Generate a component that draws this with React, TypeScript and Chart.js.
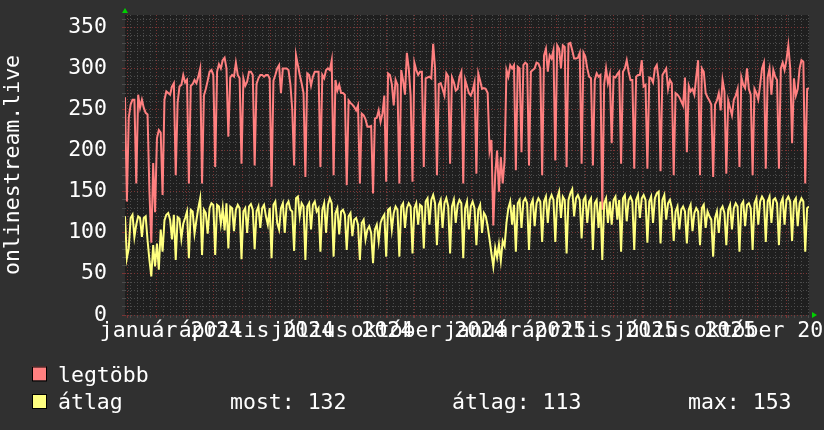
import React, { useEffect, useRef } from "react";
import { Chart, registerables } from "chart.js";
Chart.register(...registerables);

// ---- data (one point every 2 days, starting 2023-11-28) ----
const legtobb = [
  265,138,240,256,262,262,160,268,252,262,
  252,246,244,150,88,185,125,215,225,222,
  146,262,272,270,268,278,282,170,258,278,
  280,292,283,286,160,279,281,286,282,290,
  300,160,267,275,285,296,298,292,180,296,
  305,300,310,313,300,217,289,292,290,307,
  292,288,184,288,279,284,296,296,292,182,
  281,288,292,292,290,292,292,288,156,285,
  292,300,304,270,300,300,300,298,281,250,
  182,316,304,292,282,270,168,294,292,279,
  290,296,296,296,180,292,288,298,300,298,
  310,170,286,273,280,270,270,268,158,261,
  258,256,253,249,255,160,245,243,238,229,
  229,230,148,239,240,249,235,245,267,162,
  294,292,281,255,286,280,160,298,285,268,
  319,300,267,162,307,298,292,296,296,180,
  288,289,290,288,330,300,170,281,282,275,
  267,294,290,184,289,283,273,275,290,296,
  160,286,278,270,267,273,283,172,294,285,
  275,276,275,270,200,213,109,170,200,150,
  192,160,188,298,290,304,300,304,176,302,
  300,198,304,307,305,182,296,298,300,307,
  306,300,170,316,324,296,316,312,322,188,
  328,324,300,328,326,180,330,331,322,312,
  312,313,319,184,319,314,300,290,288,182,
  286,294,290,292,128,281,300,282,292,209,
  290,289,293,296,184,296,300,310,296,286,
  286,178,290,292,292,310,278,280,178,289,
  288,283,300,304,286,175,292,296,300,275,
  286,282,170,270,268,265,260,255,289,198,
  279,272,275,268,290,310,170,300,296,270,
  265,261,256,168,256,261,270,249,286,272,
  172,261,252,243,262,267,275,180,289,280,
  276,300,275,268,170,275,270,262,280,300,
  307,178,289,300,268,298,290,286,178,300,
  307,298,310,328,300,209,288,267,275,300,
  310,308,160,275,276,
];

const atlag = [
  120,69,81,118,122,95,110,120,118,95,
  118,120,91,67,47,85,59,87,55,104,
  77,115,122,124,116,92,122,67,119,117,
  93,111,118,126,69,128,126,99,115,130,
  142,73,128,124,99,130,136,134,73,134,
  132,111,130,103,136,81,132,130,102,128,
  134,130,68,126,130,100,132,135,128,80,
  126,132,106,130,134,120,110,130,69,134,
  138,112,104,130,136,100,134,138,128,126,
  78,142,144,120,136,132,67,132,136,104,
  134,138,126,130,77,128,136,100,134,142,
  136,71,124,130,98,126,128,122,79,120,
  124,96,116,118,110,67,112,116,92,104,
  108,100,63,104,110,90,112,118,122,71,
  128,130,104,124,132,128,71,132,136,106,
  130,136,132,75,130,136,110,134,132,81,
  138,142,110,140,146,136,85,134,140,106,
  136,142,132,75,132,140,112,134,140,136,
  69,130,138,104,132,138,130,85,128,134,
  100,124,120,108,92,75,59,82,70,86,
  66,90,84,112,130,138,110,134,77,136,
  140,106,138,142,136,79,134,140,108,136,
  142,138,89,138,144,112,140,146,140,89,
  142,150,118,144,140,75,140,148,153,120,
  142,146,140,93,140,144,112,138,142,79,
  136,140,106,138,67,136,142,112,138,110,
  140,144,116,140,77,142,146,114,140,144,
  138,79,140,146,118,142,146,140,88,138,
  144,112,142,148,150,87,140,146,116,136,
  140,130,90,126,132,104,128,132,126,87,
  128,134,102,124,130,126,85,130,134,106,
  126,120,116,71,118,126,100,128,132,124,
  85,128,134,104,130,136,132,77,134,138,
  108,134,136,130,79,136,142,110,138,144,
  140,89,138,144,112,140,142,136,85,136,
  142,110,140,144,138,90,138,142,108,136,
  142,138,77,130,132,
];

const DAYS_PER_POINT = 2;
const LAST_DAY = 728;
// month starts, in days since 2023-11-28
const monthStartDays = [3, 34, 65, 94, 125, 155, 186, 216, 247, 278, 308, 339, 369, 400, 431, 459, 490, 520, 551, 581, 612, 643, 673, 704];
const quarterLabels = ["január 2024", "április 2024", "július 2024", "október 2024", "január 2025", "április 2025", "július 2025", "október 2025"];
const quarterLabelDays = [49, 140, 231, 323, 415, 505, 596, 688];
const yLabelValues = [0, 50, 100, 150, 200, 250, 300, 350];
const Y_MAX = 365;
const yTitle = "onlinestream.live";
const seriesNames = ["legtöbb", "átlag"];
const statTexts = ["most: 132", "átlag: 113", "max: 153"];

const FONT_FAMILY = "'DejaVu Sans Mono', monospace";
const FONT_SIZE = 21.5;
const FONT = `${FONT_SIZE}px ${FONT_FAMILY}`;
const BG = "#303030";
const PLOT_BG = "#1f1f1f";
const TEXT = "#ffffff";
const GRID_MINOR = "#4c4c4c";
const GRID_MAJOR = "#7a3434";
const RED = "#ff8080";
const YELLOW = "#ffff80";
const ARROW = "#00d000";

const minorXGrid: number[] = [];
for (let d = 6; d <= LAST_DAY; d += 7) minorXGrid.push(d);
const xGridDays = Array.from(new Set([...minorXGrid, ...monthStartDays])).sort((a, b) => a - b);
const yGridValues: number[] = [];
for (let v = 0; v <= Y_MAX; v += 10) yGridValues.push(v);

const decor = {
  id: "decor",
  beforeDraw(chart: any) {
    const { ctx, chartArea: a, width, height } = chart;
    ctx.save();
    ctx.fillStyle = BG;
    ctx.fillRect(0, 0, width, height);
    ctx.fillStyle = PLOT_BG;
    ctx.fillRect(a.left, a.top, a.right - a.left, a.bottom - a.top);
    ctx.restore();
  },
  afterDraw(chart: any) {
    const { ctx, chartArea: a } = chart;
    const xs = chart.scales.x;
    ctx.save();
    ctx.font = FONT;
    ctx.fillStyle = TEXT;
    ctx.textBaseline = "alphabetic";
    ctx.textAlign = "center";
    quarterLabels.forEach((t, k) => {
      ctx.fillText(t, xs.getPixelForValue(quarterLabelDays[k]), a.bottom + 22);
    });
    // y title
    ctx.save();
    ctx.translate(19, (a.top + a.bottom) / 2);
    ctx.rotate(-Math.PI / 2);
    ctx.fillText(yTitle, 0, 0);
    ctx.restore();
    // arrows
    ctx.fillStyle = ARROW;
    ctx.beginPath();
    ctx.moveTo(a.left - 3, a.top - 2);
    ctx.lineTo(a.left + 3, a.top - 2);
    ctx.lineTo(a.left, a.top - 7);
    ctx.closePath();
    ctx.fill();
    ctx.beginPath();
    ctx.moveTo(a.right + 3, a.bottom - 3);
    ctx.lineTo(a.right + 3, a.bottom + 3);
    ctx.lineTo(a.right + 8, a.bottom);
    ctx.closePath();
    ctx.fill();
    // legend
    const colors = [RED, YELLOW];
    const rows = [381.5, 409];
    ctx.textAlign = "left";
    seriesNames.forEach((n, k) => {
      const base = rows[k];
      ctx.fillStyle = colors[k];
      ctx.fillRect(32, base - 15, 14, 14);
      ctx.strokeStyle = "#000000";
      ctx.lineWidth = 1;
      ctx.strokeRect(32.5, base - 14.5, 14, 14);
      ctx.fillStyle = TEXT;
      ctx.fillText(n, 58, base);
    });
    const statX = [230, 452, 688];
    statTexts.forEach((t, k) => ctx.fillText(t, statX[k], rows[1]));
    ctx.restore();
  },
};

export default function App() {
  const ref = useRef<HTMLCanvasElement | null>(null);
  useEffect(() => {
    if (!ref.current) return;
    const toPts = (arr: number[]) => arr.map((v, i) => ({ x: i * DAYS_PER_POINT, y: v }));
    const chart = new Chart(ref.current, {
      type: "line",
      data: {
        datasets: [
          { label: seriesNames[0], data: toPts(legtobb), borderColor: RED, borderWidth: 2, pointRadius: 0, tension: 0, order: 1 },
          { label: seriesNames[1], data: toPts(atlag), borderColor: YELLOW, borderWidth: 2, pointRadius: 0, tension: 0, order: 0 },
        ],
      },
      options: {
        animation: false,
        responsive: false,
        devicePixelRatio: 1,
        events: [],
        layout: { padding: { left: 0, top: 15, right: 15, bottom: 115 } },
        plugins: { legend: { display: false }, tooltip: { enabled: false }, title: { display: false } },
        scales: {
          x: {
            type: "linear",
            min: 0,
            max: LAST_DAY,
            afterBuildTicks: (s: any) => { s.ticks = xGridDays.map((v) => ({ value: v })); },
            afterFit: (s: any) => { s.height = 0; s.paddingLeft = 0; s.paddingRight = 0; s.paddingTop = 0; s.paddingBottom = 0; },
            ticks: { display: false },
            border: { display: false, dash: [1, 2] },
            grid: {
              color: (c: any) => (monthStartDays.includes(c.tick?.value) ? GRID_MAJOR : GRID_MINOR),
              lineWidth: 1,
              drawTicks: true,
              tickLength: 3,
            },
          },
          y: {
            type: "linear",
            min: 0,
            max: Y_MAX,
            afterBuildTicks: (s: any) => { s.ticks = yGridValues.map((v) => ({ value: v })); },
            afterFit: (s: any) => { s.width = 125; s.paddingTop = 0; s.paddingBottom = 0; s.paddingLeft = 0; s.paddingRight = 0; },
            ticks: {
              callback: (v: any) => (yLabelValues.includes(v) ? String(v) : ""),
              font: { family: FONT_FAMILY, size: FONT_SIZE },
              color: TEXT,
              padding: 15,
              autoSkip: false,
            },
            border: { display: false, dash: [1, 2] },
            grid: {
              color: (c: any) => (c.tick && c.tick.value % 50 === 0 ? GRID_MAJOR : GRID_MINOR),
              lineWidth: 1,
              drawTicks: true,
              tickLength: 3,
            },
          },
        },
      },
      plugins: [decor],
    });
    return () => chart.destroy();
  }, []);
  return (
    <div style={{ position: "absolute", left: 0, top: 0, width: 824, height: 430 }}>
      <canvas ref={ref} width={824} height={430} style={{ display: "block" }} />
    </div>
  );
}
